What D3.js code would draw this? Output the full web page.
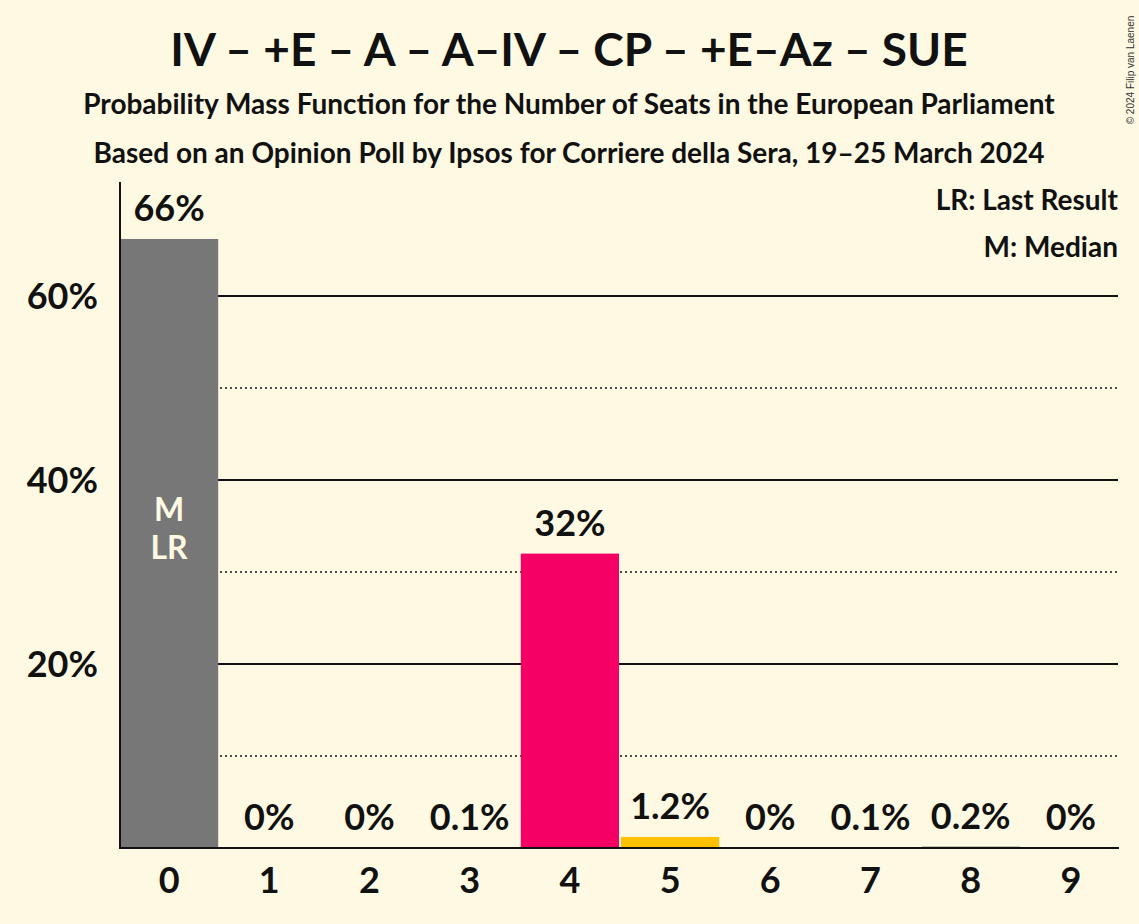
<!DOCTYPE html>
<html>
<head>
<meta charset="utf-8">
<script src="https://cdn.jsdelivr.net/npm/d3@7"></script>
<style>
  html, body { margin: 0; padding: 0; background: #fdf9e2; }
  svg { display: block; font-family: Lato, sans-serif; font-weight: bold; }
</style>
</head>
<body>
<div class="chart"></div>
<script>
var seats = [0, 1, 2, 3, 4, 5, 6, 7, 8, 9];
var probs = [66.2, 0, 0, 0.05, 32.0, 1.2, 0, 0.05, 0.15, 0];
var labels = ['66%', '0%', '0%', '0.1%', '32%', '1.2%', '0%', '0.1%', '0.2%', '0%'];
var colors = ['#777777', '#777777', '#777777', '#777777', '#f50064', '#ffc000', '#777777', '#777777', '#777777', '#777777'];
var solidTicks = [20, 40, 60];
var dottedTicks = [10, 30, 50];

var width = 1139;
var height = 924;
var left = 120;
var right = 1120;
var baseline = 848;

var svg = d3.select('.chart').append('svg').attr('width', width).attr('height', height);

svg.append('rect').attr('width', width).attr('height', height).attr('fill', '#fdf9e2');

var x = d3.scaleBand().domain(seats).range([left, right]).paddingInner(0.02).paddingOuter(0);
var y = d3.scaleLinear().domain([0, 20]).range([baseline, baseline - 184]);

// titles
svg.append('text').attr('x', 569).attr('y', 66).attr('text-anchor', 'middle')
  .attr('font-size', 46).attr('fill', '#111').text('IV – +E – A – A–IV – CP – +E–Az – SUE');
svg.append('text').attr('x', 569).attr('y', 114).attr('text-anchor', 'middle')
  .attr('font-size', 28).attr('fill', '#111').text('Probability Mass Function for the Number of Seats in the European Parliament');
svg.append('text').attr('x', 569).attr('y', 163).attr('text-anchor', 'middle')
  .attr('font-size', 28).attr('fill', '#111').text('Based on an Opinion Poll by Ipsos for Corriere della Sera, 19–25 March 2024');

// grid
svg.selectAll('.solid').data(solidTicks).enter().append('line')
  .attr('x1', left).attr('x2', 1118)
  .attr('y1', function (d) { return y(d); })
  .attr('y2', function (d) { return y(d); })
  .attr('stroke', '#111').attr('stroke-width', 2);

svg.selectAll('.dotted').data(dottedTicks).enter().append('line')
  .attr('x1', left).attr('x2', 1118)
  .attr('y1', function (d) { return y(d); })
  .attr('y2', function (d) { return y(d); })
  .attr('stroke', '#111').attr('stroke-width', 1.5).attr('stroke-dasharray', '2,3');

// bars
svg.selectAll('.bar').data(probs).enter().append('rect')
  .attr('x', function (d, i) { return x(seats[i]); })
  .attr('width', x.bandwidth())
  .attr('y', function (d) { return y(d); })
  .attr('height', function (d) { return baseline - y(d); })
  .attr('fill', function (d, i) { return colors[i]; });

// value labels
svg.selectAll('.val').data(probs).enter().append('text')
  .attr('x', function (d, i) { return x(seats[i]) + x.bandwidth() / 2; })
  .attr('y', function (d) { return y(d) - 18; })
  .attr('text-anchor', 'middle').attr('font-size', 36).attr('fill', '#111')
  .text(function (d, i) { return labels[i]; });

// median / last result marker
svg.append('text').attr('x', x(0) + x.bandwidth() / 2).attr('y', 521)
  .attr('text-anchor', 'middle').attr('font-size', 32).attr('fill', '#fdf9e2').text('M');
svg.append('text').attr('x', x(0) + x.bandwidth() / 2).attr('y', 559)
  .attr('text-anchor', 'middle').attr('font-size', 32).attr('fill', '#fdf9e2').text('LR');

// axes
svg.append('line').attr('x1', left).attr('x2', left).attr('y1', 182).attr('y2', baseline + 1)
  .attr('stroke', '#111').attr('stroke-width', 2);
svg.append('line').attr('x1', left).attr('x2', 1119).attr('y1', baseline).attr('y2', baseline)
  .attr('stroke', '#111').attr('stroke-width', 2);

svg.selectAll('.ytick').data(solidTicks).enter().append('text')
  .attr('x', 98).attr('y', function (d) { return y(d) + 13; })
  .attr('text-anchor', 'end').attr('font-size', 36).attr('fill', '#111')
  .text(function (d) { return d + '%'; });

svg.selectAll('.xtick').data(seats).enter().append('text')
  .attr('x', function (d) { return x(d) + x.bandwidth() / 2; })
  .attr('y', 893)
  .attr('text-anchor', 'middle').attr('font-size', 36).attr('fill', '#111')
  .text(function (d) { return d; });

// legend
svg.append('text').attr('x', 1118).attr('y', 210).attr('text-anchor', 'end')
  .attr('font-size', 28).attr('fill', '#111').text('LR: Last Result');
svg.append('text').attr('x', 1118).attr('y', 257).attr('text-anchor', 'end')
  .attr('font-size', 28).attr('fill', '#111').text('M: Median');

// copyright
svg.append('text').attr('transform', 'translate(1134,70) rotate(-90)')
  .attr('text-anchor', 'middle').attr('font-size', 10).attr('font-weight', 'normal')
  .attr('font-family', 'Liberation Sans, sans-serif').attr('fill', '#333')
  .text('© 2024 Filip van Laenen');
</script>
</body>
</html>
